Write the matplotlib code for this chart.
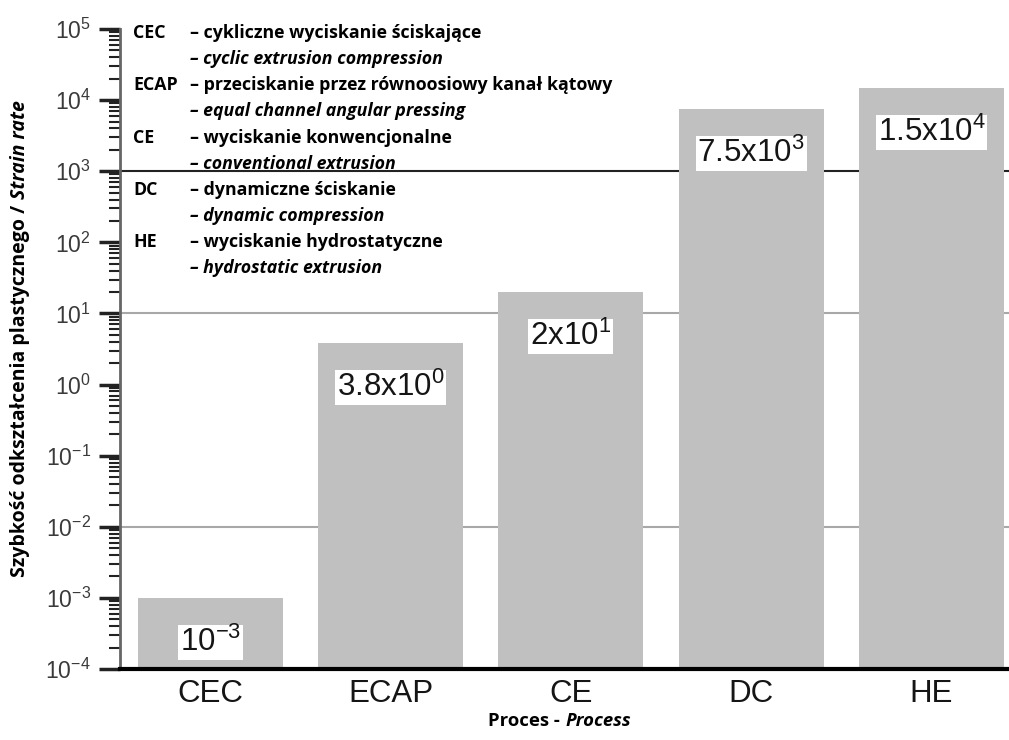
import matplotlib
matplotlib.use('Agg')
import matplotlib.pyplot as plt
import numpy as np
from matplotlib.ticker import LogLocator, NullFormatter

# strain rate of each process, written as mantissa x 10^exponent
processes = ['CEC', 'ECAP', 'CE', 'DC', 'HE']
mantissa = [1.0, 3.8, 2.0, 7.5, 1.5]
exponent = [-3, 0, 1, 3, 4]
rates = [m * 10.0 ** e for m, e in zip(mantissa, exponent)]

names_pl = ['cykliczne wyciskanie ściskające',
            'przeciskanie przez równoosiowy kanał kątowy',
            'wyciskanie konwencjonalne',
            'dynamiczne ściskanie',
            'wyciskanie hydrostatyczne']
names_en = ['cyclic extrusion compression',
            'equal channel angular pressing',
            'conventional extrusion',
            'dynamic compression',
            'hydrostatic extrusion']

decades = np.arange(-4, 6)
grid_levels = [1e-2, 1e1]
ref_level = 1e3

plt.rcParams['font.family'] = ['Liberation Sans', 'DejaVu Sans']
txt_font = ['Open Sans', 'DejaVu Sans']
txt_size = 12.8

W, H = 1009, 740
fig = plt.figure(figsize=(W / 100, H / 100), dpi=100)
ax = fig.add_axes([120 / W, 71 / H, 889 / W, 640 / H])
ax.set_yscale('log')

x = np.arange(len(processes))
ax.bar(x, rates, width=0.805, color='#c0c0c0', zorder=2)

for lvl in grid_levels:
    ax.axhline(lvl, color='#a8a8a8', lw=1.5, zorder=1)
ax.axhline(ref_level, color='#222222', lw=1.5, zorder=1)

# value labels inside the bars
for xi, r, m, e in zip(x, rates, mantissa, exponent):
    if m == 1:
        lab = r'$\mathdefault{10^{%d}}$' % e
    else:
        lab = r'$\mathdefault{%gx10^{%d}}$' % (m, e)
    ax.annotate(lab, xy=(xi, r), xytext=(0, -32), textcoords='offset points',
                ha='center', va='center', fontsize=22.5, color='#151515',
                bbox=dict(boxstyle='square,pad=0.06', fc='white', ec='none'),
                zorder=3)

ax.set_xlim(-0.5, 4.43)
ax.set_ylim(1e-4, 1e5)
ax.set_xticks(x)
ax.set_xticklabels(processes)
ax.set_yticks(10.0 ** decades)
ax.yaxis.set_minor_locator(LogLocator(base=10, subs=np.arange(2, 10), numticks=12))
ax.yaxis.set_minor_formatter(NullFormatter())

ax.tick_params(axis='x', length=0, labelsize=22.5, pad=7, labelcolor='#151515')
ax.tick_params(axis='y', which='major', length=15, width=2.5, color='#222222',
               labelsize=16.5, labelcolor='#3a3a3a', pad=6)
ax.tick_params(axis='y', which='minor', length=8, width=1.5, color='#222222')

for s in ['top', 'right']:
    ax.spines[s].set_visible(False)
ax.spines['left'].set_color('#666666')
ax.spines['left'].set_linewidth(2)
ax.spines['bottom'].set_color('black')
ax.spines['bottom'].set_linewidth(3)

# abbreviations list in the upper left corner
row_y = 33
for abbr, pl, en in zip(processes, names_pl, names_en):
    fig.text(133 / W, 1 - row_y / H, abbr, fontsize=txt_size, fontweight='bold',
             family=txt_font, va='center', ha='left')
    fig.text(190 / W, 1 - row_y / H, '– ' + pl, fontsize=txt_size,
             fontweight='bold', family=txt_font, va='center', ha='left')
    fig.text(190 / W, 1 - (row_y + 26) / H, '– ' + en, fontsize=txt_size,
             fontweight='bold', style='italic', family=txt_font,
             va='center', ha='left')
    row_y += 52.3

# axis titles, regular part followed by italic part
yl = fig.text(25 / W, 1 - 577 / H, 'Szybkość odkształcenia plastycznego /',
              rotation=90, rotation_mode='anchor', ha='left', va='baseline',
              fontsize=14, fontweight='bold', family=txt_font)
ax.annotate('Strain rate', xy=(25 / W, 1.0), xycoords=('figure fraction', yl),
            xytext=(0, 4), textcoords='offset points', rotation=90,
            rotation_mode='anchor', ha='left', va='baseline', fontsize=14,
            fontweight='bold', style='italic', family=txt_font,
            annotation_clip=False)

xl = fig.text(488 / W, 1 - 726 / H, 'Proces -', ha='left', va='baseline',
              fontsize=13.3, fontweight='bold', family=txt_font)
ax.annotate('Process', xy=(1.0, 1 - 726 / H), xycoords=(xl, 'figure fraction'),
            xytext=(4, 0), textcoords='offset points', ha='left', va='baseline',
            fontsize=13.3, fontweight='bold', style='italic', family=txt_font,
            annotation_clip=False)

fig.savefig('out.png', dpi=100)
